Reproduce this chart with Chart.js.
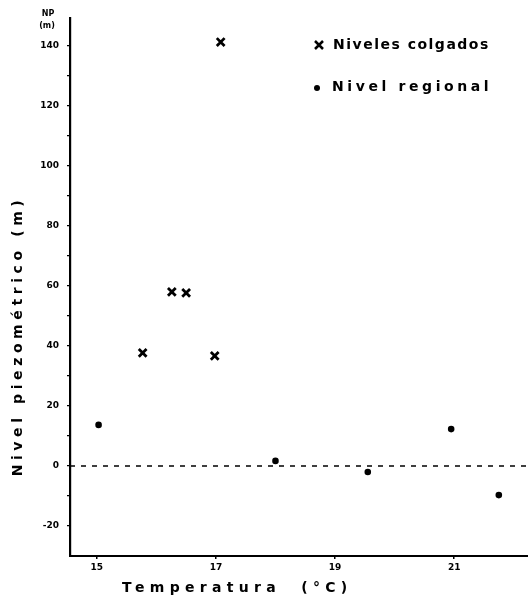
<!DOCTYPE html>
<html><head><meta charset="utf-8">
<script src="https://cdn.jsdelivr.net/npm/chart.js@4/dist/chart.umd.min.js"></script>
<style>html,body{margin:0;padding:0;background:#fff}#wrap{width:528px;height:603px}</style>
</head><body><div id="wrap"><canvas id="c" width="528" height="603"></canvas></div>
<script>
const colgadosTemp = [17.08, 15.77, 16.26, 16.50, 16.98];
const colgadosNP = [141.3, 37.7, 58.0, 57.7, 36.7];
const regionalTemp = [15.03, 18.0, 19.55, 20.95, 21.75];
const regionalNP = [13.7, 1.7, -2.0, 12.3, -9.7];
const yTickLabels = [-20, 0, 20, 40, 60, 80, 100, 120, 140];
const xTickLabels = [15, 17, 19, 21];
const zeroLineTemp = [14.55, 22.24];
const zeroLineNP = [0, 0];

const toPts = (xs, ys) => xs.map((x, i) => ({x: x, y: ys[i]}));

const textPlugin = {
  id: 'texts',
  afterDraw(chart) {
    const ctx = chart.ctx;
    ctx.save();
    ctx.fillStyle = '#000';
    ctx.strokeStyle = '#000';
    // NP (m)
    ctx.font = 'bold 8px "DejaVu Sans"';
    ctx.textAlign = 'center';
    ctx.textBaseline = 'middle';
    ctx.fillText('NP', 48, 14);
    ctx.fillText('(m)', 47, 26);
    // legend
    ctx.lineWidth = 2.5;
    ctx.beginPath();
    ctx.moveTo(315, 41); ctx.lineTo(323, 49);
    ctx.moveTo(323, 41); ctx.lineTo(315, 49);
    ctx.stroke();
    ctx.beginPath();
    ctx.arc(317, 88, 3, 0, Math.PI * 2);
    ctx.fill();
    ctx.textAlign = 'left';
    ctx.font = 'bold 14px "DejaVu Sans"';
    ctx.letterSpacing = '1.5px';
    ctx.fillText('Niveles colgados', 333, 45);
    ctx.letterSpacing = '3.6px';
    ctx.fillText('Nivel regional', 332, 87);
    // x title
    ctx.font = 'bold 14px "DejaVu Sans"';
    ctx.letterSpacing = '5.3px';
    ctx.fillText('Temperatura  (°C)', 122, 588);
    // y title
    ctx.translate(18, 336);
    ctx.rotate(-Math.PI / 2);
    ctx.textAlign = 'center';
    ctx.letterSpacing = '4.6px';
    ctx.fillText('Nivel piezométrico (m)', 0, 0);
    ctx.restore();
  }
};

new Chart(document.getElementById('c'), {
  type: 'scatter',
  data: {
    datasets: [
      {
        label: 'Niveles colgados',
        data: toPts(colgadosTemp, colgadosNP),
        pointStyle: 'crossRot',
        pointRadius: 5.5,
        pointBorderWidth: 2.8,
        borderColor: '#000',
        backgroundColor: '#000'
      },
      {
        label: 'Nivel regional',
        data: toPts(regionalTemp, regionalNP),
        pointStyle: 'circle',
        pointRadius: 3.3,
        pointBorderWidth: 0,
        borderColor: '#000',
        backgroundColor: '#000'
      },
      {
        label: 'cero',
        type: 'line',
        data: toPts(zeroLineTemp, zeroLineNP),
        borderColor: '#000',
        borderWidth: 1.5,
        borderDash: [5, 6],
        pointRadius: 0,
        fill: false
      }
    ]
  },
  options: {
    responsive: false,
    animation: false,
    devicePixelRatio: 1,
    layout: {autoPadding: false, padding: {top: 18, right: 0, left: 0, bottom: 0}},
    plugins: {legend: {display: false}, tooltip: {enabled: false}},
    scales: {
      x: {
        type: 'linear',
        min: 14.55,
        max: 22.24,
        afterBuildTicks: s => { s.ticks = xTickLabels.map(v => ({value: v})); },
        afterFit: s => { s.height = 47; s.paddingRight = 0; s.paddingLeft = 0; },
        grid: {display: true, drawOnChartArea: false, drawTicks: true, tickLength: 3, color: '#000', lineWidth: 1.5},
        border: {display: true, color: '#000', width: 2},
        ticks: {color: '#000', padding: 3, font: {family: 'DejaVu Sans', weight: 'bold', size: 9}, callback: v => String(v)}
      },
      y: {
        type: 'linear',
        min: -30,
        max: 149.3,
        afterBuildTicks: s => {
          const t = [];
          for (let v = -20; v <= 140; v += 10) t.push({value: v});
          s.ticks = t;
        },
        afterFit: s => { s.width = 70; s.paddingTop = 0; s.paddingBottom = 0; },
        grid: {display: true, drawOnChartArea: false, drawTicks: true, tickLength: 3, color: '#000', lineWidth: 1.2},
        border: {display: true, color: '#000', width: 2.2},
        ticks: {color: '#000', padding: 8, font: {family: 'DejaVu Sans', weight: 'bold', size: 9},
          callback: v => yTickLabels.includes(v) ? String(v) : ''}
      }
    }
  },
  plugins: [textPlugin]
});
</script></body></html>
